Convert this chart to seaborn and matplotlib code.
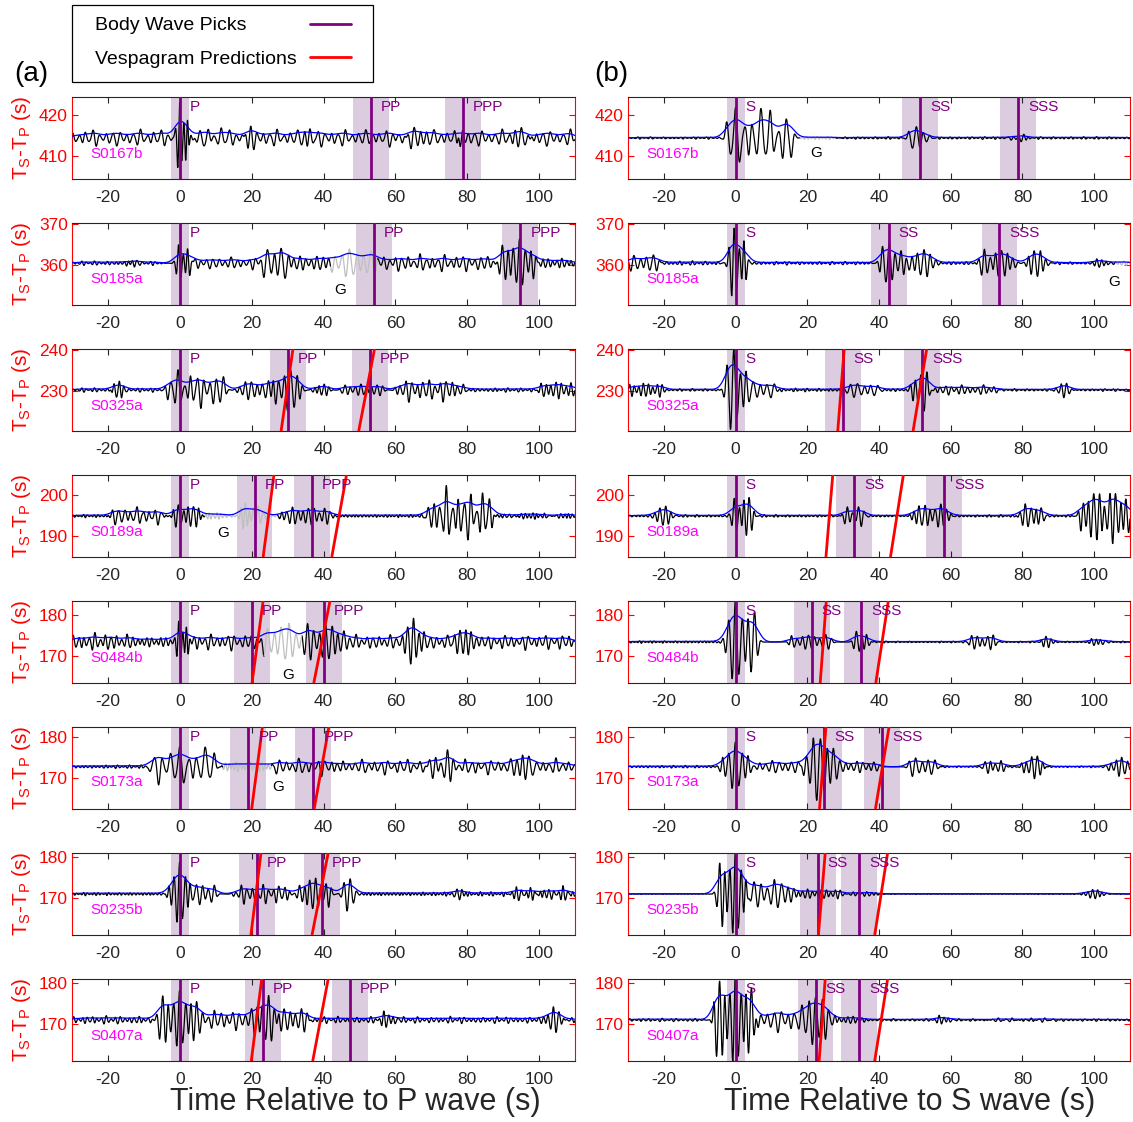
import numpy as np
import pandas as pd
import matplotlib
matplotlib.use("Agg")
import matplotlib.pyplot as plt
from matplotlib.patches import Rectangle
import seaborn as sns

# ---------------- data ----------------
stations = ["S0167b", "S0185a", "S0325a", "S0189a", "S0484b", "S0173a", "S0235b", "S0407a"]
baselines = [414.5, 360.5, 230.3, 195.0, 173.5, 172.8, 171.0, 171.0]
ylims = [(404.5, 424.5), (350.3, 370.3), (220.3, 240.3), (185.0, 205.0),
         (163.5, 183.5), (162.5, 182.5), (161.0, 181.0), (161.0, 181.0)]
yticks = [[410, 420], [360, 370], [230, 240], [190, 200],
          [170, 180], [170, 180], [170, 180], [170, 180]]
xticks = [-20, 0, 20, 40, 60, 80, 100]

p_phases = ["P", "PP", "PPP"]
s_phases = ["S", "SS", "SSS"]
p_picks = [[0, 53.2, 78.7], [0, 54.0, 94.8], [0, 30.1, 52.9], [0, 20.8, 36.8],
           [0, 20.0, 40.1], [0, 19.1, 37.2], [0, 21.5, 39.6], [0, 23.1, 47.3]]
s_picks = [[0, 51.5, 78.8], [0, 42.7, 73.6], [0, 30.0, 52.1], [0, 33.1, 58.1],
           [0, 21.2, 35.1], [0, 24.8, 40.8], [0, 22.9, 34.5], [0, 22.3, 34.5]]

# vespagram predictions: (time at bottom of panel, time at top of panel)
p_vesp = [[], [], [(28.2, 31.5), (49.8, 54.2)], [(23.2, 26.2), (42.3, 46.4)],
          [(20.1, 23.2), (37.3, 41.8)], [(20.0, 23.0), (37.4, 41.5)],
          [(19.8, 22.6), (36.8, 41.3)], [(19.9, 22.8), (37.0, 41.3)]]
s_vesp = [[], [], [(28.5, 30.3), (49.5, 53.3)], [(25.2, 27.1), (43.2, 46.8)],
          [(23.6, 25.3), (39.1, 42.6)], [(23.4, 25.2), (39.0, 42.8)],
          [(23.1, 25.0), (38.8, 42.4)], [(23.3, 25.0), (38.8, 42.4)]]

# glitch windows (grey) and "G" label positions
p_glitch = [None, (42, 55), None, (7, 27), (23.5, 34), (12, 25.5), None, None]
s_glitch = [(18, 28), (106, 110), None, None, None, None, None, None]
p_glabel = [None, (44.5, 354.0), None, (12.0, 190.8), (30.1, 165.5), (27.4, 167.8), None, None]
s_glabel = [(22.6, 410.8), (105.7, 355.8), None, None, None, None, None, None]

# wave trains: (start, end, amplitude, period)
p_waves_S0167b = [(-30, 110, 2.0, 1.9), (-1, 2.5, 7.5, 1.1), (4, 12, 1.8, 2.0), (18, 21, 2.5, 1.6),
                  (34, 37, 1.8, 1.5), (60, 70, 1.2, 1.6), (77, 79, 2.5, 1.3), (93, 98, 2.0, 1.6)]
p_waves_S0185a = [(-30, -5, 0.5, 1.2), (-15, -12, 1.0, 1.2), (-1, 3, 4.5, 1.3), (3, 22, 1.5, 1.7),
                  (23, 30, 4.0, 2.0), (30, 42, 1.5, 1.6), (42, 55, 3.0, 2.0), (56, 88, 2.0, 1.7),
                  (89, 99, 5.0, 1.6), (99, 110, 1.0, 1.3)]
p_waves_S0325a = [(-30, -5, 0.5, 1.2), (-19, -15, 2.0, 1.3), (-4, 13, 4.3, 1.8), (16, 26, 2.0, 1.6),
                  (26, 34, 4.5, 1.7), (37, 42, 1.3, 1.3), (45, 57, 1.2, 1.5), (60, 79, 2.8, 1.6),
                  (80, 100, 0.5, 1.2), (100, 110, 1.8, 1.4)]
p_waves_S0189a = [(-30, 110, 0.4, 1.0), (-20, -5, 2.2, 1.7), (-2, 6, 2.5, 1.4), (7, 27, 0.8, 1.1),
                  (17, 23, 2.5, 1.2), (28, 42, 1.8, 1.5), (69, 87, 6.0, 1.7), (88, 110, 0.6, 1.1)]
p_waves_S0484b = [(-30, -14, 2.2, 1.5), (-14, -2, 1.0, 1.3), (-1, 2.5, 5.0, 1.1), (3, 23, 2.0, 1.6),
                  (23, 34, 4.0, 2.0), (34, 46, 4.0, 1.7), (46, 110, 1.8, 1.6), (62, 68, 3.5, 1.5),
                  (76, 82, 2.5, 1.5)]
p_waves_S0173a = [(-30, -9, 0.4, 1.1), (-8, 10, 5.0, 2.4), (12, 25.5, 1.0, 1.0), (26, 45, 2.0, 1.8),
                  (45, 110, 1.8, 1.8), (69, 76, 3.5, 1.7), (93, 98, 2.5, 1.6)]
p_waves_S0235b = [(-30, -4, 0.4, 1.0), (-3, 3, 6.5, 1.5), (4, 10, 2.5, 1.7), (15, 31, 2.3, 1.5),
                  (33, 42, 3.5, 1.5), (45, 49, 3.5, 1.7), (50, 110, 0.5, 1.0), (76, 79, 1.5, 1.3),
                  (92, 110, 1.5, 1.3)]
p_waves_S0407a = [(-30, -8, 1.0, 1.3), (-6, 5, 6.0, 1.6), (5, 20, 2.5, 1.7), (20, 27, 5.0, 1.6),
                  (27, 36, 2.5, 1.6), (36, 110, 0.8, 1.3), (56, 60, 1.8, 1.3), (102, 107, 2.5, 1.5)]

s_waves_S0167b = [(-30, -4, 0.25, 1.2), (-3, 16, 7.5, 2.4), (18, 28, 0.3, 1.0), (30, 46, 0.3, 1.2),
                  (48, 54, 2.5, 2.0), (56, 110, 0.3, 1.2), (76, 81, 0.8, 1.5)]
s_waves_S0185a = [(-30, -21, 1.8, 1.8), (-21, -4, 0.5, 1.2), (-2, 3, 7.5, 1.4), (4, 38, 0.4, 1.2),
                  (40, 47, 4.5, 1.7), (48, 56, 3.0, 1.7), (57, 68, 0.3, 1.2), (68, 78, 3.0, 1.6),
                  (81, 87, 3.0, 1.6), (88, 105, 0.3, 1.2), (100, 104, 1.0, 1.3), (105, 110, 0.5, 1.2)]
s_waves_S0325a = [(-30, -20, 1.5, 1.3), (-20, -4, 0.3, 1.2), (-3, 3, 8.5, 1.8), (3, 11, 2.0, 2.0),
                  (11, 30, 0.4, 1.1), (30, 40, 1.5, 1.9), (40, 48, 0.3, 1.2), (49, 54, 4.5, 1.6),
                  (55, 73, 1.3, 1.5), (74, 110, 0.3, 1.2), (89, 94, 1.5, 1.5)]
s_waves_S0189a = [(-30, 110, 0.3, 1.1), (-23, -17, 2.2, 1.5), (-1, 5, 4.5, 1.4), (30, 36, 2.2, 1.6),
                  (49, 60, 2.5, 1.5), (79, 86, 2.5, 1.5), (96, 110, 5.5, 1.5)]
s_waves_S0484b = [(-30, -4, 0.3, 1.0), (-3, 6, 8.5, 1.8), (15, 27, 1.6, 1.6), (33, 37, 3.0, 1.5),
                  (38, 110, 0.2, 1.1), (65, 73, 1.5, 1.5), (85, 88, 1.5, 1.3), (99, 103, 1.0, 1.3)]
s_waves_S0173a = [(-30, -5, 0.3, 1.1), (-4, 4, 5.0, 1.8), (6, 18, 1.3, 1.8), (19, 28, 7.0, 1.9),
                  (28, 40, 1.2, 1.6), (48, 56, 2.0, 1.8), (57, 110, 0.2, 1.1), (69, 75, 1.5, 1.5),
                  (80, 86, 2.5, 1.5), (104, 110, 2.0, 1.5)]
s_waves_S0235b = [(-30, -7, 0.1, 1.0), (-5, 3, 9.0, 1.5), (4, 16, 3.0, 1.9), (16, 30, 1.0, 1.3),
                  (32, 40, 0.5, 1.3), (40, 110, 0.1, 1.0), (97, 103, 1.0, 1.3)]
s_waves_S0407a = [(-30, -9, 0.4, 1.3), (-6, 5, 9.5, 1.5), (6, 28, 3.0, 1.9), (19, 26, 4.0, 1.8),
                  (28, 36, 0.8, 1.3), (36, 110, 0.3, 1.3), (56, 60, 1.0, 1.3), (70, 90, 0.6, 1.3)]

p_waves = [p_waves_S0167b, p_waves_S0185a, p_waves_S0325a, p_waves_S0189a,
           p_waves_S0484b, p_waves_S0173a, p_waves_S0235b, p_waves_S0407a]
s_waves = [s_waves_S0167b, s_waves_S0185a, s_waves_S0325a, s_waves_S0189a,
           s_waves_S0484b, s_waves_S0173a, s_waves_S0235b, s_waves_S0407a]

legend_labels = ["Body Wave Picks", "Vespagram Predictions"]

# ---------------- styling ----------------
sns.set_theme(style="white")
plt.rcParams["font.family"] = ["Liberation Sans", "DejaVu Sans"]
plt.rcParams["mathtext.fontset"] = "custom"
plt.rcParams["mathtext.rm"] = "Liberation Sans"
plt.rcParams["mathtext.it"] = "Liberation Sans"
plt.rcParams["axes.unicode_minus"] = False

AXC = (0.15, 0.15, 0.15)
PURPLE = (0.5, 0.0, 0.5)
SHADE = (0.86, 0.80, 0.88)
RED = (1.0, 0.0, 0.0)
GREY = (0.75, 0.75, 0.75)

W, H = 1133, 1122
fig = plt.figure(figsize=(W / 100, H / 100), dpi=100)

t = np.arange(-30, 110.001, 0.05)


def synth(waves):
    y = np.zeros_like(t)
    for k, (t0, t1, amp, per) in enumerate(waves):
        win = 0.5 * (np.tanh((t - t0) / 0.7) - np.tanh((t - t1) / 0.7))
        car = (np.sin(2 * np.pi * t / per + 1.7 * k)
               + 0.4 * np.sin(2 * np.pi * t / (per * 1.43) + 0.6 * k + 1.0)
               + 0.12 * np.sin(2 * np.pi * t / (per * 0.67) + 2.3 * k)) / 1.25
        if t1 - t0 > 14:
            car = car * (0.45 + 0.55 * np.sin(2 * np.pi * t / 6.3 + k) ** 2)
        y += amp * win * car
    return y


def smooth_env(y):
    s = 28
    k = np.exp(-0.5 * (np.arange(-4 * s, 4 * s + 1) / s) ** 2)
    k /= k.sum()
    return np.convolve(np.abs(y), k, mode="same") * 1.3


col_left = [72, 628]
col_width = [503, 502]
row_top0, row_pitch, row_h = 97, 126, 82

for i in range(8):
    for j in range(2):
        left = col_left[j] / W
        bottom = 1 - (row_top0 + row_pitch * i + row_h) / H
        ax = fig.add_axes([left, bottom, col_width[j] / W, row_h / H])
        picks = p_picks[i] if j == 0 else s_picks[i]
        phases = p_phases if j == 0 else s_phases
        vesp = p_vesp[i] if j == 0 else s_vesp[i]
        glitch = p_glitch[i] if j == 0 else s_glitch[i]
        glab = p_glabel[i] if j == 0 else s_glabel[i]
        waves = p_waves[i] if j == 0 else s_waves[i]
        base = baselines[i]
        y0, y1 = ylims[i]

        # shaded windows
        for k, pk in enumerate(picks):
            hw = 2.5 if k == 0 else 5.0
            ax.axvspan(pk - hw, pk + hw, color=SHADE, lw=0, zorder=0)

        amp = synth(waves)
        trace = base + amp
        env = base + smooth_env(amp)

        seg = np.zeros_like(t, dtype=int)
        grey_mask = np.zeros_like(t, dtype=bool)
        if glitch is not None:
            grey_mask = (t >= glitch[0]) & (t <= glitch[1])
            seg[t > glitch[1]] = 2
        df = pd.DataFrame({"t": t, "v": trace, "seg": seg})
        black = df[~grey_mask]
        sns.lineplot(data=black, x="t", y="v", units="seg", estimator=None, sort=False,
                     color="black", lw=0.9, ax=ax, zorder=2)
        if glitch is not None:
            gdf = df[grey_mask]
            sns.lineplot(data=gdf, x="t", y="v", estimator=None, sort=False,
                         color=GREY, lw=0.9, ax=ax, zorder=2)
        edf = pd.DataFrame({"t": t, "e": env})
        sns.lineplot(data=edf, x="t", y="e", estimator=None, sort=False,
                     color="blue", lw=0.9, ax=ax, zorder=3)

        # picks
        for k, pk in enumerate(picks):
            ax.axvline(pk, color=PURPLE, lw=2, zorder=4)
            ax.text(pk + 2.8, y1 - 0.8, phases[k], color=PURPLE, fontsize=11,
                    ha="left", va="top", zorder=6)
        # vespagram predictions
        for (xb, xt) in vesp:
            ax.plot([xb, xt], [y0, y1], color=RED, lw=2, zorder=5, solid_capstyle="butt")

        ax.text(-25, base - 3.8, stations[i], color=(1, 0, 1), fontsize=11,
                ha="left", va="center", zorder=6)
        if glab is not None:
            ax.text(glab[0], glab[1], "G", color="black", fontsize=11,
                    ha="center", va="center", zorder=6)

        ax.set_xlim(-30, 110)
        ax.set_ylim(y0, y1)
        ax.set_xticks(xticks)
        ax.set_yticks(yticks[i])
        ax.set_xlabel("")
        ax.set_ylabel("")
        ax.tick_params(axis="x", direction="in", top=True, bottom=True, length=4,
                       colors=AXC, labelsize=12.5, pad=8, width=0.8)
        ax.tick_params(axis="y", direction="in", left=True, right=True, length=4,
                       colors=RED, labelsize=12.5, pad=3, width=0.8)
        for side in ["top", "bottom"]:
            ax.spines[side].set_color(AXC)
            ax.spines[side].set_linewidth(0.8)
        for side in ["left", "right"]:
            ax.spines[side].set_color(RED)
            ax.spines[side].set_linewidth(0.8)
        if j == 0:
            ax.set_ylabel(r"T$_\mathregular{S}$-T$_\mathregular{P}$ (s)", color=RED,
                          fontsize=15, labelpad=4)

fig.text(355 / W, 1 - 1102 / H, "Time Relative to P wave (s)", ha="center", va="center",
         fontsize=22, color=AXC)
fig.text(910 / W, 1 - 1102 / H, "Time Relative to S wave (s)", ha="center", va="center",
         fontsize=22, color=AXC)
fig.text(14 / W, 1 - 74 / H, "(a)", ha="left", va="center", fontsize=20, color="black")
fig.text(594 / W, 1 - 74 / H, "(b)", ha="left", va="center", fontsize=20, color="black")

# legend box drawn in its own axes (text left, line sample right)
lx0, ly0, lx1, ly1 = 71, 4, 373, 82
lax = fig.add_axes([lx0 / W, 1 - ly1 / H, (lx1 - lx0) / W, (ly1 - ly0) / H])
lax.set_xlim(lx0, lx1)
lax.set_ylim(ly1, ly0)
lax.axis("off")
lax.add_patch(Rectangle((lx0 + 0.5, ly0 + 0.5), lx1 - lx0 - 1, ly1 - ly0 - 1, fill=False,
                        edgecolor="black", lw=0.9, clip_on=False))
for lab, col, yy in zip(legend_labels, [PURPLE, RED], [26, 59]):
    lax.text(95, yy, lab, fontsize=14, color="black", ha="left", va="center")
    lax.plot([310, 351], [yy - 2, yy - 2], color=col, lw=2)

fig.savefig("out.png", dpi=100)
